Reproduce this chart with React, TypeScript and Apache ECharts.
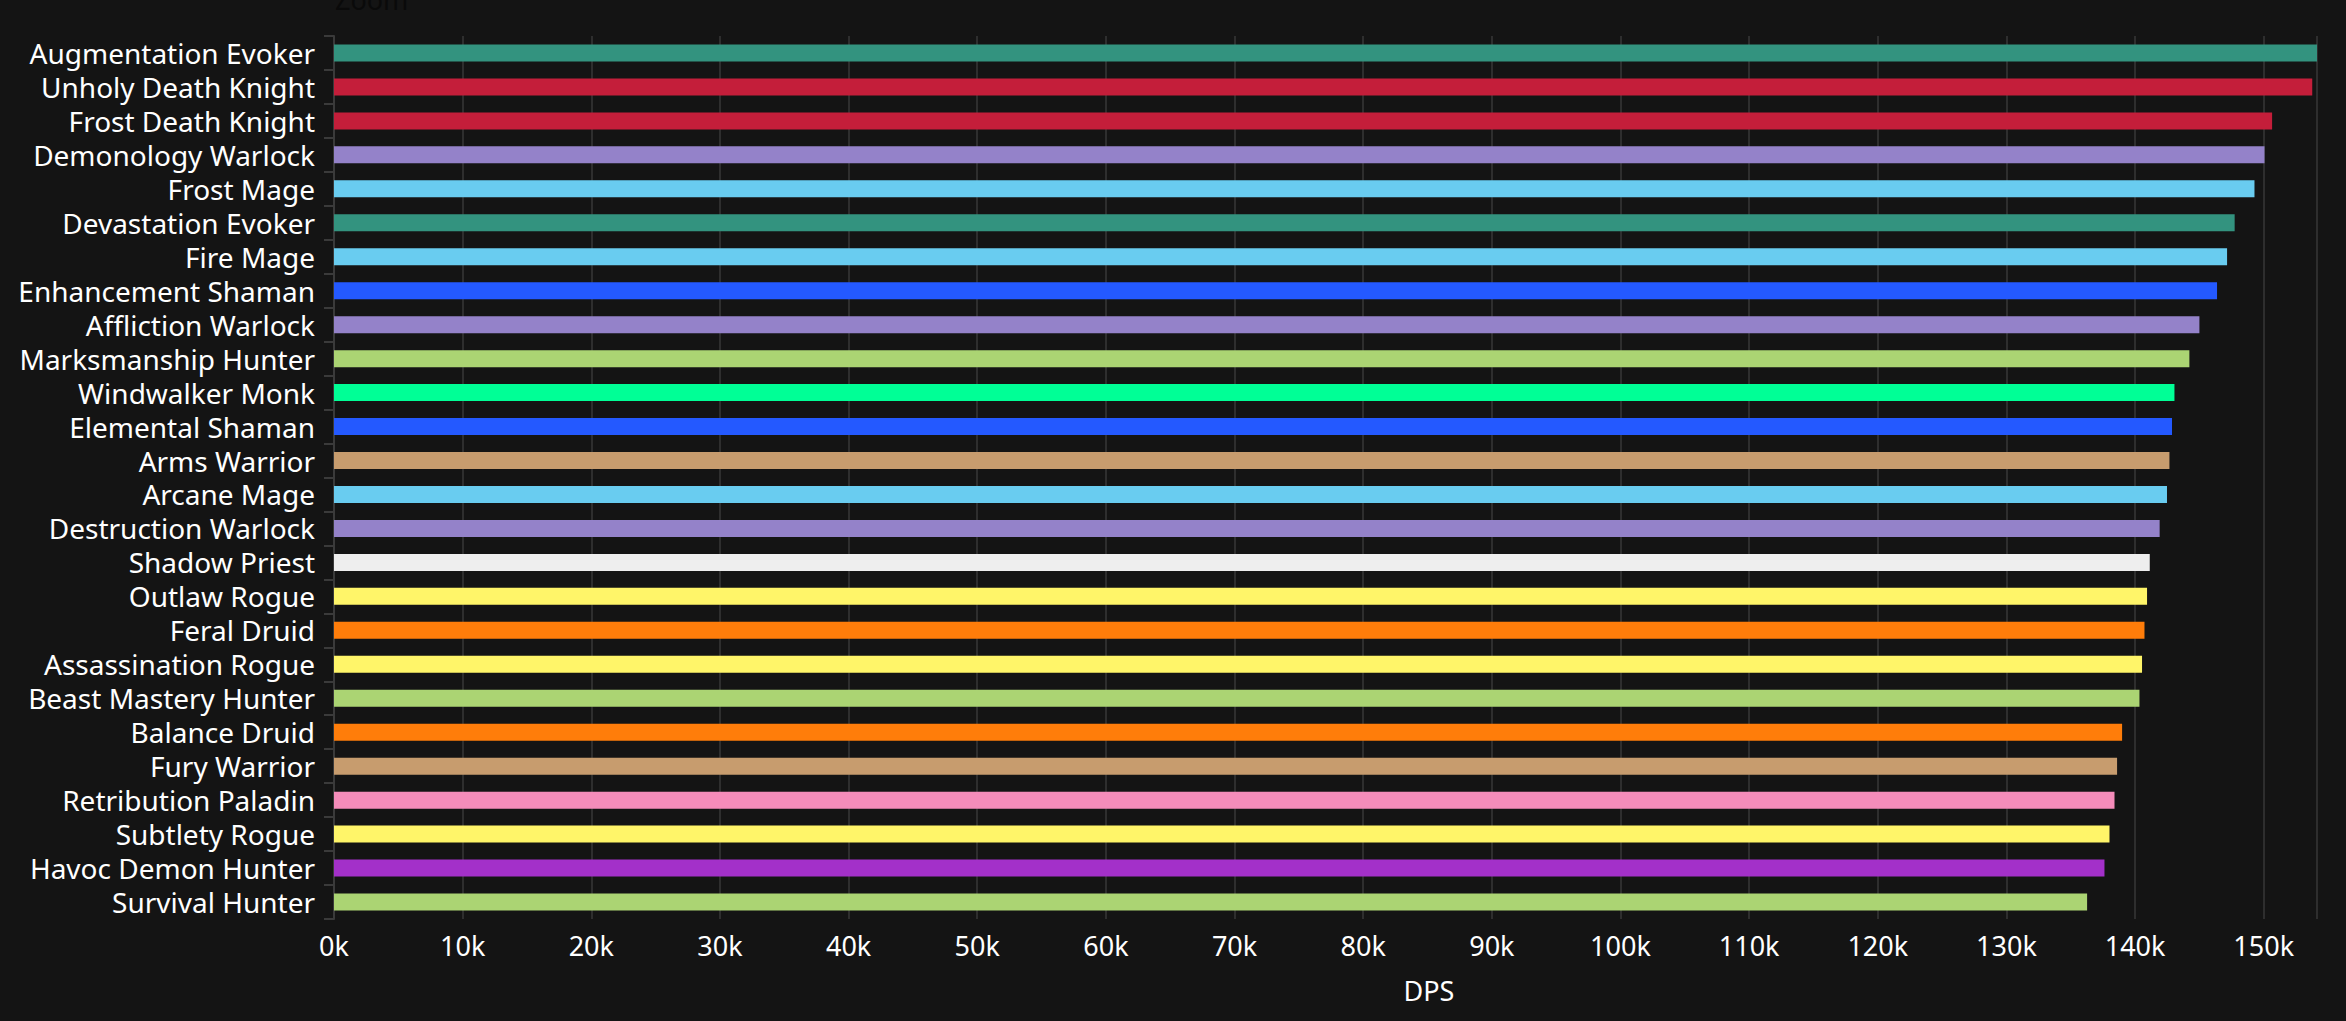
import React, { useEffect, useRef } from "react";
import * as echarts from "echarts";

const specs = [
  "Augmentation Evoker",
  "Unholy Death Knight",
  "Frost Death Knight",
  "Demonology Warlock",
  "Frost Mage",
  "Devastation Evoker",
  "Fire Mage",
  "Enhancement Shaman",
  "Affliction Warlock",
  "Marksmanship Hunter",
  "Windwalker Monk",
  "Elemental Shaman",
  "Arms Warrior",
  "Arcane Mage",
  "Destruction Warlock",
  "Shadow Priest",
  "Outlaw Rogue",
  "Feral Druid",
  "Assassination Rogue",
  "Beast Mastery Hunter",
  "Balance Druid",
  "Fury Warrior",
  "Retribution Paladin",
  "Subtlety Rogue",
  "Havoc Demon Hunter",
  "Survival Hunter",
];

const dps = [
  154140, 153770, 150650, 150060, 149280, 147740, 147150, 146370, 145000,
  144220, 143060, 142870, 142670, 142480, 141910, 141140, 140930, 140730,
  140540, 140340, 138990, 138600, 138400, 138010, 137620, 136270,
];

const classColors = [
  "#33937F", "#C41E3A", "#C41E3A", "#9482C9", "#69CCF0", "#33937F",
  "#69CCF0", "#2459FF", "#9482C9", "#ABD473", "#00FF96", "#2459FF",
  "#C79C6E", "#69CCF0", "#9482C9", "#EEEEEE", "#FFF569", "#FF7D0A",
  "#FFF569", "#ABD473", "#FF7D0A", "#C79C6E", "#F58CBA", "#FFF569",
  "#A330C9", "#ABD473",
];

const FONT = "Noto Sans";

export default function App() {
  const ref = useRef<HTMLDivElement>(null);
  useEffect(() => {
    if (!ref.current) return;
    const chart = echarts.init(ref.current, null, { renderer: "svg" });
    chart.setOption({
      animation: false,
      backgroundColor: "#141414",
      textStyle: { fontFamily: FONT },
      grid: { left: 334, right: 29, top: 36, bottom: 102, containLabel: false },
      graphic: [
        {
          type: "text",
          left: 335,
          top: -14,
          style: { text: "Zoom", fill: "#0a0a0a", font: `27px "${FONT}"` },
        },
        {
          type: "text",
          x: 1429,
          y: 990,
          style: {
            text: "DPS",
            fill: "#ffffff",
            font: `27px "${FONT}"`,
            textAlign: "center",
            textVerticalAlign: "middle",
          },
        },
      ],
      xAxis: {
        type: "value",
        min: 0,
        max: "dataMax",
        interval: 10000,
        axisLine: { show: false },
        axisTick: { show: false },
        axisLabel: {
          color: "#ffffff",
          fontSize: 27,
          fontFamily: FONT,
          margin: 13,
          formatter: (v: number) => `${Math.round(v / 1000)}k`,
          showMaxLabel: false,
        },
        splitLine: { show: true, lineStyle: { color: "#2e2e2e", width: 2 } },
      },
      yAxis: {
        type: "category",
        inverse: true,
        data: specs,
        axisLine: { show: true, lineStyle: { color: "#3a3a3a", width: 2 } },
        axisTick: { show: true, length: 10, interval: 0, lineStyle: { color: "#3a3a3a", width: 2 } },
        axisLabel: {
          color: "#ffffff",
          fontSize: 28,
          fontFamily: FONT,
          margin: 19,
          interval: 0,
          hideOverlap: false,
        },
        splitLine: { show: false },
      },
      series: [
        {
          type: "bar",
          data: dps.map((v, i) => ({ value: v, itemStyle: { color: classColors[i] } })),
          barWidth: 17,
        },
      ],
    });
    return () => chart.dispose();
  }, []);
  return (
    <div
      ref={ref}
      style={{ position: "fixed", left: 0, top: 0, width: 2346, height: 1021 }}
    />
  );
}
